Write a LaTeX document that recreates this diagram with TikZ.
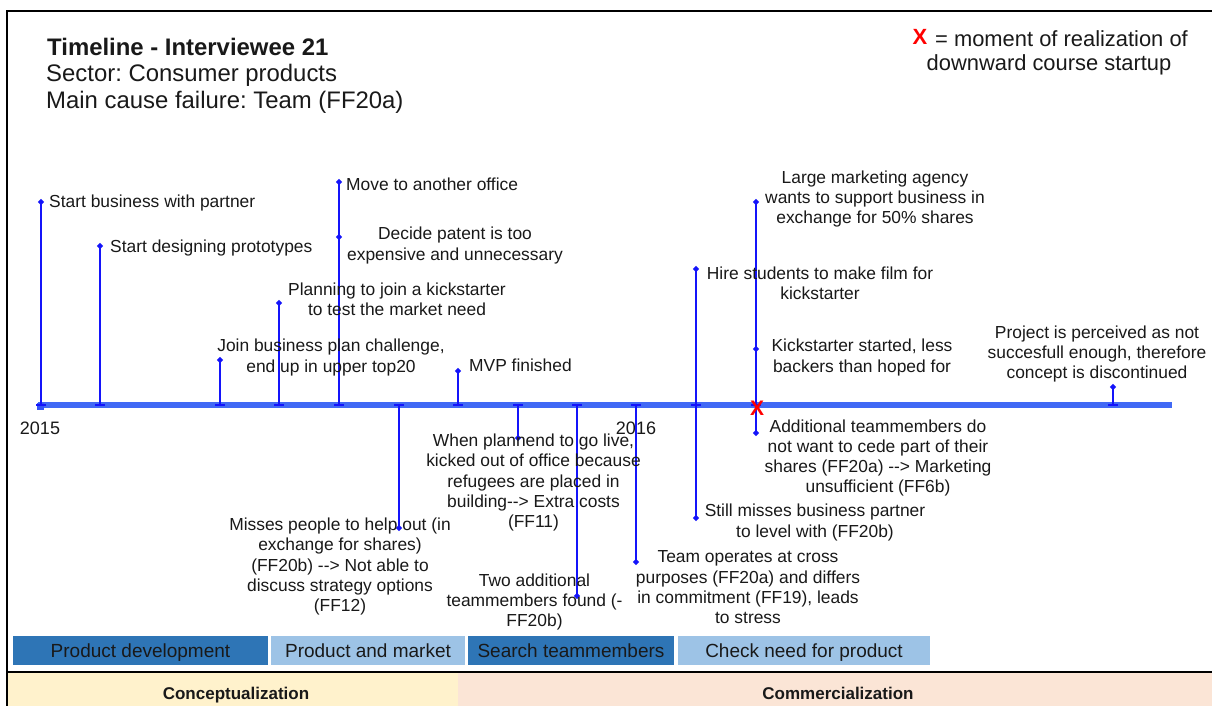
\documentclass[tikz,border=0pt]{standalone}
\usepackage{fontspec}
\setmainfont{Liberation Sans}
\usetikzlibrary{shapes.geometric}
\definecolor{txt}{RGB}{25,25,25}
\definecolor{stemblue}{RGB}{20,20,250}
\definecolor{axisblue}{RGB}{65,105,245}
\definecolor{darkphase}{RGB}{46,117,182}
\definecolor{lightphase}{RGB}{157,195,230}
\definecolor{conceptfill}{RGB}{255,242,204}
\definecolor{commfill}{RGB}{251,229,214}
\frenchspacing
\begin{document}
\begin{tikzpicture}[x=1pt,y=-1pt,
  evtext/.style={font=\frenchspacing\fontsize{17.4}{20.3}\selectfont, text=txt, inner sep=0pt, align=center},
  evleft/.style={evtext, anchor=west, align=left},
  stem/.style={draw=stemblue, line width=1.3pt},
  dot/.style={diamond, fill=stemblue, inner sep=0pt, minimum size=6.5pt},
  phasebox/.style={text height=13.6pt, text depth=0pt, inner sep=0pt, minimum height=29pt, text=txt, font=\fontsize{19}{22}\selectfont},
  yearlbl/.style={inner sep=0pt, text=txt, font=\fontsize{18}{21}\selectfont},
  headline/.style={inner sep=0pt, anchor=west, text=txt, font=\frenchspacing\fontsize{23.9}{27}\selectfont},
  stagelbl/.style={text height=12.2pt, text depth=0pt, inner sep=0pt, text=txt, font=\fontsize{17}{20}\selectfont\bfseries}
]
\useasboundingbox (0,0) rectangle (1212,706);
\fill[white] (0,0) rectangle (1212,706);

% stage bands along the bottom
\fill[conceptfill] (7,672) rectangle (458,706);
\fill[commfill] (458,672) rectangle (1212,706);
\draw[line width=1.5pt] (7,672) -- (1212,672);
\node[stagelbl] (concept) at (236,693) {Conceptualization};
\node[stagelbl] (comm) at (838,693) {Commercialization};

% frame
\draw[line width=1.5pt] (7,706) -- (7,11) -- (1212,11);

% header
\node[headline, font=\fontsize{23.9}{27}\selectfont\bfseries] (title) at (47,47) {Timeline - Interviewee 21};
\node[headline] (sector) at (46,75) {Sector: Consumer products};
\node[headline] (cause) at (46,102) {Main cause failure: Team (FF20a)};

% legend
\node[inner sep=0pt, text=red, font=\fontsize{22}{25}\selectfont\bfseries] (legx) at (920,37) {X};
\node[inner sep=0pt, anchor=west, text=txt, font=\fontsize{21.9}{25}\selectfont] (leg1) at (935,39) {= moment of realization of};
\node[inner sep=0pt, text=txt, font=\fontsize{21.9}{25}\selectfont] (leg2) at (1049,65) {downward course startup};

% time axis
\draw[axisblue, line width=6pt] (38,405) -- (1172,405);
\fill[axisblue!80!blue] (37,403) rectangle (44,410);
\node[yearlbl] (y2015) at (40,428) {2015};
\node[yearlbl] (y2016) at (636,428) {2016};

% anchor points of each event on the axis
\foreach \n/\x in {b1/41,b2/100,b3/220,b4/279,b5/339,b6/399,b7/458,b8/518,b9/577,b10/636,b11/696,b12/756,b13/1113}{
  \coordinate (\n) at (\x,405);
  \draw[stem] ([xshift=-5pt]\n) -- ([xshift=5pt]\n);
}

% event markers
\node[dot] (m1) at (41,202) {};
\node[dot] (m2) at (100,246) {};
\node[dot] (m3) at (220,360) {};
\node[dot] (m4) at (279,303) {};
\node[dot] (m5a) at (339,182) {};
\node[dot] (m5b) at (339,237) {};
\node[dot] (m6) at (399,528) {};
\node[dot] (m7) at (458,371) {};
\node[dot] (m8) at (518,438) {};
\node[dot] (m9) at (577,596) {};
\node[dot] (m10) at (636,562) {};
\node[dot] (m11a) at (696,269) {};
\node[dot] (m11b) at (696,518) {};
\node[dot] (m12a) at (756,202) {};
\node[dot] (m12b) at (756,349) {};
\node[dot] (m12c) at (756,433) {};
\node[dot] (m13) at (1113,387) {};

% stems
\draw[stem] (b1) -- (m1.center);
\draw[stem] (b2) -- (m2.center);
\draw[stem] (b3) -- (m3.center);
\draw[stem] (b4) -- (m4.center);
\draw[stem] (b5) -- (m5a.center);
\draw[stem] (b6) -- (m6.center);
\draw[stem] (b7) -- (m7.center);
\draw[stem] (b8) -- (m8.center);
\draw[stem] (b9) -- (m9.center);
\draw[stem] (b10) -- (m10.center);
\draw[stem] (m11a.center) -- (m11b.center);
\draw[stem] (m12a.center) -- (m12c.center);
\draw[stem] (b13) -- (m13.center);

% realization mark
\node[inner sep=0pt, text=red, font=\fontsize{21}{24}\selectfont\bfseries] (realize) at (757,408) {X};

% event labels above the axis
\node[evleft] (e1) at (49,203) {Start business with partner};
\node[evleft] (e2) at (110,248) {Start designing prototypes};
\node[evtext] (e3) at (331,357.5) {Join business plan challenge,\\end up in upper top20};
\node[evtext] (e4) at (397,299) {Planning to join a kickstarter\\to test the market need};
\node[evleft] (e5a) at (346,184) {Move to another office};
\node[evtext] (e5b) at (455,245.5) {Decide patent is too\\expensive and unnecessary};
\node[evleft] (e7) at (469,365) {MVP finished};
\node[evtext] (e11a) at (820,283) {Hire students to make film for\\kickstarter};
\node[evtext] (e12a) at (875,199) {Large marketing agency\\wants to support business in\\exchange for 50\% shares};
\node[evtext] (e12b) at (862,357.5) {Kickstarter started, less\\backers than hoped for};
\node[evtext] (e13) at (1097,354) {Project is perceived as not\\succesfull enough, therefore\\concept is discontinued};

% event labels below the axis
\node[evtext] (e6) at (340,566.5) {Misses people to help out (in\\exchange for shares)\\(FF20b) -{}-> Not able to\\discuss strategy options\\(FF12)};
\node[evtext] (e8) at (533.5,482.5) {When plannend to go live,\\kicked out of office because\\refugees are placed in\\building-{}-> Extra costs\\(FF11)};
\node[evtext] (e9) at (534.5,602) {Two additional\\teammembers found (-\\FF20b)};
\node[evtext] (e10) at (748,587.5) {Team operates at cross\\purposes (FF20a) and differs\\in commitment (FF19), leads\\to stress};
\node[evtext] (e11b) at (815,522.5) {Still misses business partner\\to level with (FF20b)};
\node[evtext] (e12c) at (878,458) {Additional teammembers do\\not want to cede part of their\\shares (FF20a) -{}-> Marketing\\unsufficient (FF6b)};

% activity phases
\node[phasebox, fill=darkphase, minimum width=255pt] (ph1) at (140.5,650.5) {Product development};
\node[phasebox, fill=lightphase, minimum width=194pt] (ph2) at (368,650.5) {Product and market};
\node[phasebox, fill=darkphase, minimum width=206pt] (ph3) at (571,650.5) {Search teammembers};
\node[phasebox, fill=lightphase, minimum width=252pt] (ph4) at (804,650.5) {Check need for product};
\end{tikzpicture}
\end{document}
